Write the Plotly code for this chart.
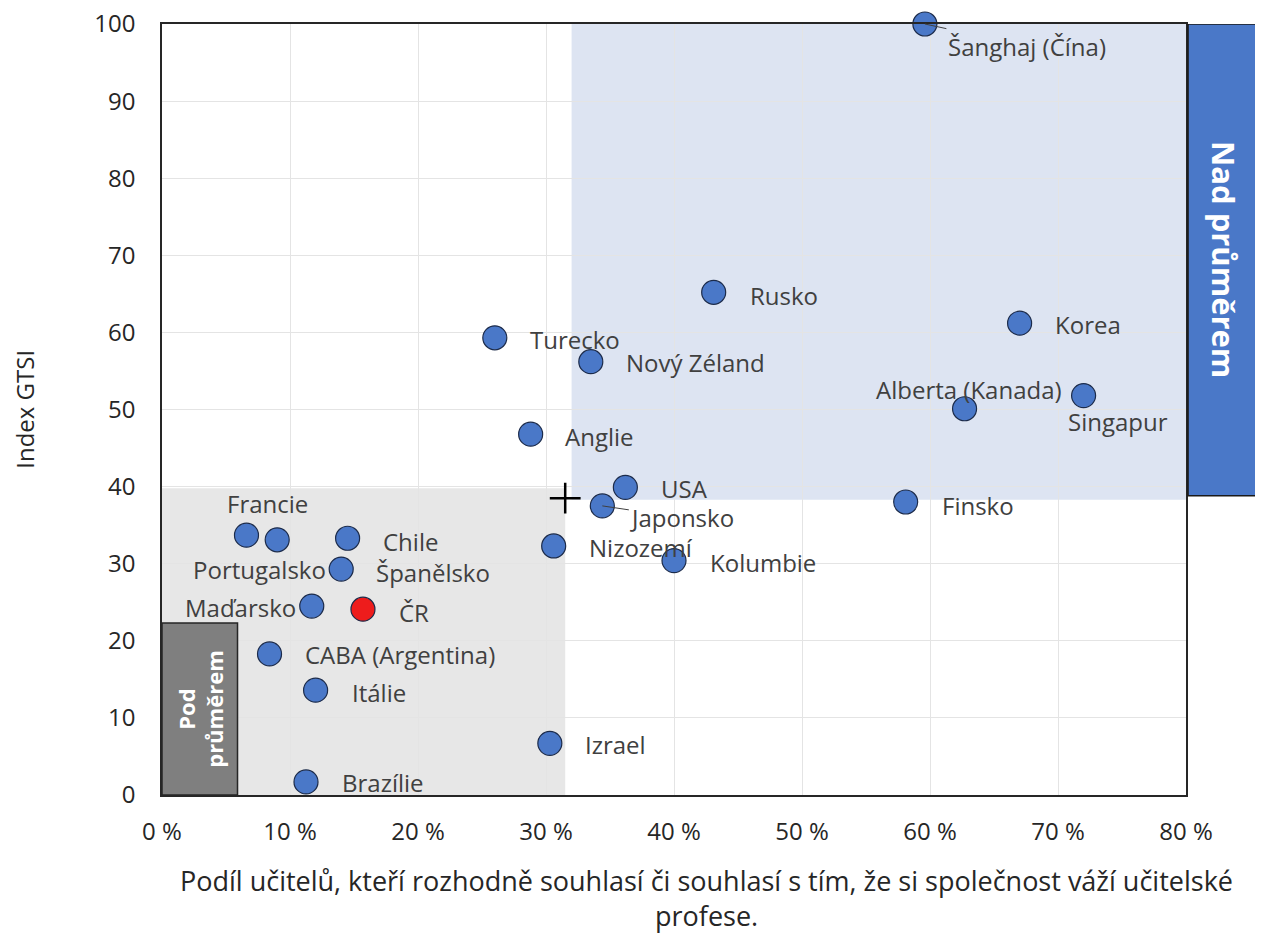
import plotly.graph_objects as go

countries = ["Šanghaj (Čína)", "Rusko", "Korea", "Singapur", "Alberta (Kanada)", "Finsko",
             "Turecko", "Nový Zéland", "Anglie", "USA", "Japonsko", "Nizozemí", "Kolumbie",
             "Izrael", "Francie", "Portugalsko", "Chile", "Španělsko", "Maďarsko", "ČR",
             "CABA (Argentina)", "Itálie", "Brazílie"]
share = [59.6, 43.1, 67.0, 72.0, 62.7, 58.1,
         26.0, 33.5, 28.8, 36.2, 34.4, 30.6, 40.0,
         30.3, 6.6, 9.0, 14.5, 14.0, 11.7, 15.7,
         8.4, 12.0, 11.25]
gtsi = [100.0, 65.2, 61.2, 51.8, 50.1, 38.0,
        59.3, 56.2, 46.8, 39.9, 37.5, 32.3, 30.4,
        6.7, 33.7, 33.1, 33.3, 29.3, 24.5, 24.1,
        18.3, 13.6, 1.7]
highlight = "ČR"
avg_share = [31.5]
avg_gtsi = [38.5]

# region bounds (x %, y index)
above_region = [32.0, 80.0, 38.3, 100.0]
below_region = [0.0, 31.5, 0.0, 39.8]
low_box = [0.0, 5.9, 0.0, 22.3]
x_ticks = [0, 10, 20, 30, 40, 50, 60, 70, 80]
y_ticks = [0, 10, 20, 30, 40, 50, 60, 70, 80, 90, 100]
x_title_lines = ["Podíl učitelů, kteří rozhodně souhlasí či souhlasí s tím, že si společnost váží učitelské",
                 "profese."]

# label placement: (xanchor, xshift, yshift) in pixels
label_pos = {
    "Rusko": ("left", 34, -3),
    "Korea": ("left", 33, -1),
    "Singapur": ("left", -18, -26),
    "Alberta (Kanada)": ("center", 4, 19),
    "Finsko": ("left", 34, -3),
    "Turecko": ("left", 33, -2),
    "Nový Zéland": ("left", 33, -1),
    "Anglie": ("left", 32, -2),
    "USA": ("left", 34, -1),
    "Nizozemí": ("left", 33, -2),
    "Kolumbie": ("left", 34, -2),
    "Izrael": ("left", 33, -1),
    "Francie": ("center", 21, 32),
    "Portugalsko": ("right", 51, -30),
    "Chile": ("left", 33, -3),
    "Španělsko": ("left", 33, -3),
    "Maďarsko": ("right", -14, -1),
    "ČR": ("left", 34, -3),
    "CABA (Argentina)": ("left", 33, -1),
    "Itálie": ("left", 34, -2),
    "Brazílie": ("left", 34, -1),
}
# labels with leader lines: (ax, ay) offset of text centre in pixels
leader_pos = {"Šanghaj (Čína)": (102, 22), "Japonsko": (80, 12)}

FONT = "Open Sans"
TXT = "#404040"
DARK = "#262626"
BLUE = "#4a78c8"
LBL = 24

fig = go.Figure()

colors = ["#ee1c1c" if c == highlight else BLUE for c in countries]
fig.add_trace(go.Scatter(
    x=share, y=gtsi, mode="markers",
    marker=dict(size=24, color=colors, line=dict(color="#1c2b4a", width=1.2)),
    cliponaxis=False, hoverinfo="text", text=countries, showlegend=False))

fig.add_trace(go.Scatter(
    x=avg_share, y=avg_gtsi, mode="markers",
    marker=dict(symbol="cross-thin", size=22, line=dict(color="black", width=2.5)),
    showlegend=False, hoverinfo="skip"))

shapes = [
    dict(type="rect", xref="x", yref="y", x0=above_region[0], x1=above_region[1],
         y0=above_region[2], y1=above_region[3], fillcolor="#dde4f2", line_width=0, layer="below"),
    dict(type="rect", xref="x", yref="y", x0=below_region[0], x1=below_region[1],
         y0=below_region[2], y1=below_region[3], fillcolor="#e7e7e7", line_width=0, layer="below"),
    dict(type="rect", xref="x", yref="y", x0=low_box[0], x1=low_box[1],
         y0=low_box[2], y1=low_box[3], fillcolor="#7f7f7f",
         line=dict(color=DARK, width=1.5), layer="above"),
    dict(type="rect", xref="paper", yref="y", x0=1.002, x1=1.072,
         y0=38.8, y1=100, fillcolor=BLUE, line=dict(color="#1a1a1a", width=1.5), layer="above"),
]

annotations = []
for c, xv, yv in zip(countries, share, gtsi):
    if c in label_pos:
        xa, xs, ys = label_pos[c]
        annotations.append(dict(x=xv, y=yv, xref="x", yref="y", text=c, showarrow=False,
                                xanchor=xa, yanchor="middle", xshift=xs, yshift=ys,
                                font=dict(family=FONT, size=LBL, color=TXT)))
    else:
        ax, ay = leader_pos[c]
        annotations.append(dict(x=xv, y=yv, xref="x", yref="y", text=c,
                                showarrow=True, arrowhead=0, arrowwidth=1, arrowcolor=TXT,
                                ax=ax, ay=ay, standoff=0,
                                font=dict(family=FONT, size=LBL, color=TXT)))

annotations.append(dict(x=1.037, y=69.4, xref="paper", yref="y", text="<b>Nad průměrem</b>",
                        showarrow=False, textangle=90, xanchor="center", yanchor="middle",
                        font=dict(family=FONT, size=31, color="white")))
annotations.append(dict(x=low_box[1] / 2, y=low_box[3] / 2, xref="x", yref="y",
                        text="<b>Pod<br>průměrem</b>", showarrow=False, textangle=-90,
                        xanchor="center", yanchor="middle",
                        font=dict(family=FONT, size=22, color="white")))
for line, yp in zip(x_title_lines, [-0.1115, -0.1569]):
    annotations.append(dict(x=0.532, y=yp, xref="paper", yref="paper", text=line,
                            showarrow=False, xanchor="center", yanchor="middle",
                            font=dict(family=FONT, size=27, color=DARK)))
annotations.append(dict(x=-0.1345, y=0.5, xref="paper", yref="paper", text="Index GTSI",
                        showarrow=False, textangle=-90, xanchor="center", yanchor="middle",
                        font=dict(family=FONT, size=24, color=DARK)))

fig.update_layout(
    width=1255, height=925,
    margin=dict(l=154, r=77, t=16, b=138),
    paper_bgcolor="white", plot_bgcolor="white",
    shapes=shapes, annotations=annotations,
    font=dict(family=FONT, size=LBL, color=TXT),
    xaxis=dict(range=[0, 80], tickvals=x_ticks, ticktext=[f"{v} %" for v in x_ticks],
               showgrid=True, gridcolor="#e4e4e4", gridwidth=1,
               showline=True, linecolor=DARK, linewidth=1.5, mirror=True,
               zeroline=False, ticks="", ticklabelstandoff=14, ticklabeloverflow="allow",
               automargin=False, tickfont=dict(size=24, color=DARK)),
    yaxis=dict(range=[0, 100], tickvals=y_ticks,
               showgrid=True, gridcolor="#e4e4e4", gridwidth=1,
               showline=True, linecolor=DARK, linewidth=1.5, mirror=True,
               zeroline=False, ticks="", ticklabelstandoff=20, ticklabeloverflow="allow",
               automargin=False, tickfont=dict(size=24, color=DARK)),
)

fig.write_html("out.html")
